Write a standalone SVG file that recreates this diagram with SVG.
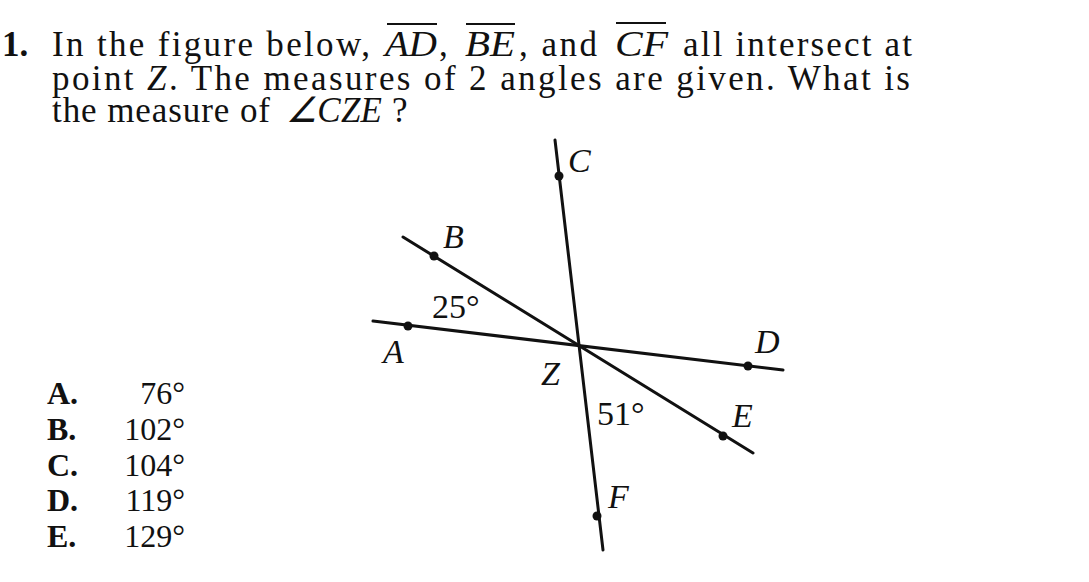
<svg xmlns="http://www.w3.org/2000/svg" width="1089" height="582" viewBox="0 0 1089 582" font-family="'Liberation Serif', 'Times New Roman', serif">
<style>
.t{font-size:35px;fill:#111}
.a{font-size:32px;fill:#111}
.i{font-style:italic}
.b{font-weight:bold}
.lab{font-size:34px;font-style:italic;fill:#111}
.num{font-size:34px;fill:#111}
.ln{stroke:#111;stroke-width:3;fill:none;stroke-linecap:round}
.ov{stroke:#111;stroke-width:2}
.dot{fill:#111}
</style>
<rect width="1089" height="582" fill="#fff"/>
<g id="question" font-family="Liberation Serif, serif">
<text class="t b" x="2" y="56">1.</text>
<text class="t" x="52" y="56" textLength="318" lengthAdjust="spacing">In the figure below,</text>
<text class="t i" x="385" y="56" textLength="52" lengthAdjust="spacingAndGlyphs">AD</text>
<text class="t" x="439" y="56">,</text>
<text class="t i" x="465" y="56" textLength="50" lengthAdjust="spacingAndGlyphs">BE</text>
<text class="t" x="519" y="56" textLength="78" lengthAdjust="spacing">, and</text>
<text class="t i" x="615" y="56" textLength="53" lengthAdjust="spacingAndGlyphs">CF</text>
<text class="t" x="683" y="56" textLength="229" lengthAdjust="spacing">all intersect at</text>
<line class="ov" x1="387" y1="24" x2="437" y2="24"/>
<line class="ov" x1="466" y1="24" x2="515" y2="24"/>
<line class="ov" x1="616" y1="23" x2="666" y2="23"/>
<text class="t" x="52" y="90" textLength="858" lengthAdjust="spacing">point <tspan class="i">Z</tspan>. The measures of 2 angles are given. What is</text>
<text class="t" x="52" y="122" textLength="218" lengthAdjust="spacing">the measure of</text>
<text class="t i" x="286" y="122" textLength="96" lengthAdjust="spacing">∠CZE</text>
<text class="t" x="392" y="122">?</text>
</g>
<g id="answers" font-family="Liberation Serif, serif">
<text class="a b" x="47" y="404">A.</text><text class="a" x="185" y="404" text-anchor="end">76°</text>
<text class="a b" x="47" y="440">B.</text><text class="a" x="185" y="440" text-anchor="end">102°</text>
<text class="a b" x="47" y="476">C.</text><text class="a" x="185" y="476" text-anchor="end">104°</text>
<text class="a b" x="47" y="511">D.</text><text class="a" x="185" y="511" text-anchor="end">119°</text>
<text class="a b" x="47" y="547">E.</text><text class="a" x="185" y="547" text-anchor="end">129°</text>
</g>
<g id="connectors">
<line id="lineCF" class="ln" x1="555" y1="140" x2="603" y2="550"/>
<line id="lineAD" class="ln" x1="373" y1="321" x2="783" y2="370"/>
<line id="lineBE" class="ln" x1="403" y1="237" x2="753" y2="453"/>
</g>
<g font-family="Liberation Serif, serif">
<g id="pointC"><circle class="dot" cx="559" cy="176" r="4.5"/><text class="lab" x="568" y="172">C</text></g>
<g id="pointB"><circle class="dot" cx="434" cy="256" r="4.5"/><text class="lab" x="443" y="248">B</text></g>
<g id="pointA"><circle class="dot" cx="408" cy="326" r="4.5"/><text class="lab" x="383" y="363">A</text></g>
<g id="pointD"><circle class="dot" cx="748" cy="366" r="4.5"/><text class="lab" x="755" y="353">D</text></g>
<g id="pointE"><circle class="dot" cx="723" cy="436" r="4.5"/><text class="lab" x="732" y="427">E</text></g>
<g id="pointF"><circle class="dot" cx="597" cy="516" r="4.5"/><text class="lab" x="608" y="508">F</text></g>
<g id="pointZ"><text class="lab" x="541" y="385">Z</text></g>
<g id="angle25"><text class="num" x="432" y="318">25°</text></g>
<g id="angle51"><text class="num" x="597" y="425">51°</text></g>
</g>
</svg>
